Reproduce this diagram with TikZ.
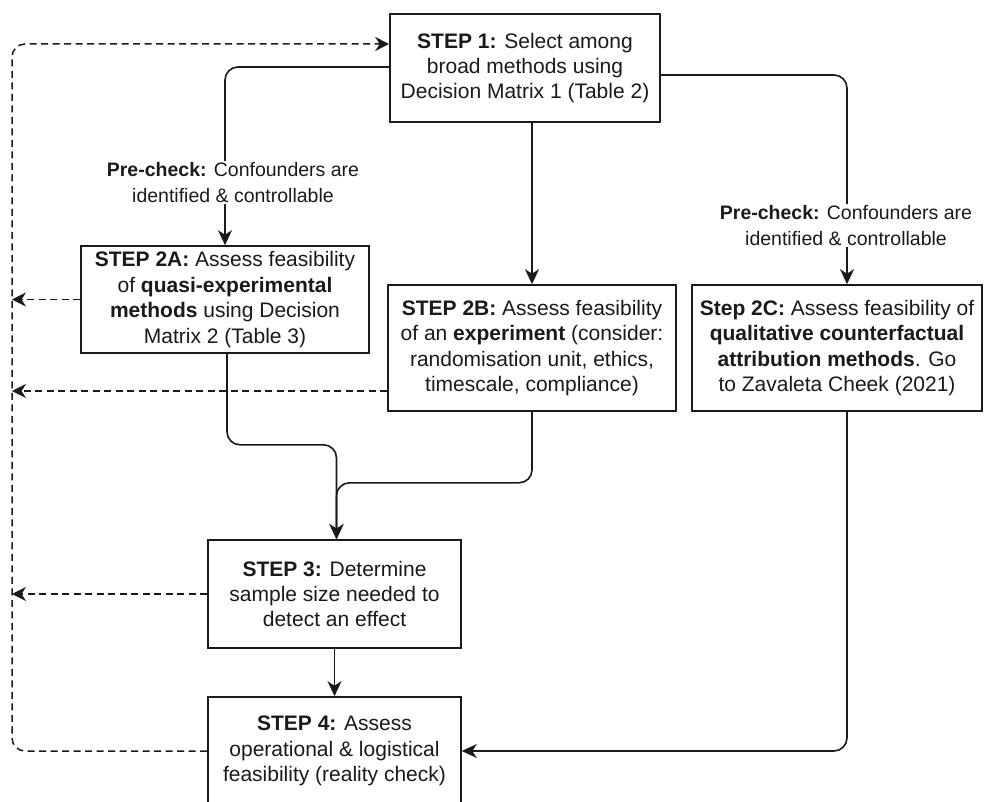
\documentclass[tikz,border=0pt]{standalone}
\usepackage{fontspec}
\setmainfont{Liberation Sans}
\usetikzlibrary{arrows.meta}
\definecolor{ink}{HTML}{1A1A1A}
\begin{document}
\begin{tikzpicture}[x=1pt,y=-1pt,
  box/.style={draw=ink, line width=1.6pt, fill=white, text=ink, align=center, inner sep=0pt,
    font=\fontsize{21}{25.4}\selectfont},
  lbl/.style={text=ink, align=center, inner sep=1pt, font=\fontsize{19.5}{26}\selectfont},
  conn/.style={draw=ink, line width=1.6pt, rounded corners=13pt},
  arr/.style={conn, -{Stealth[length=15pt,width=14pt,inset=4.5pt]}},
  darr/.style={conn, line width=1.5pt, dash pattern=on 7pt off 4.5pt, -{Stealth[length=14pt,width=14pt,inset=4.5pt]}}
]
\useasboundingbox (0,0) rectangle (984,802);
\clip (0,0) rectangle (984,802);

% nodes
\node[box, minimum width=270pt, minimum height=108pt] (s1) at (525,68)
  {\textbf{STEP 1:} Select among\\broad methods using\\Decision Matrix 1 (Table 2)};
\node[box, minimum width=288pt, minimum height=107pt] (a2) at (225,299.5)
  {\textbf{STEP 2A:} Assess feasibility\\of \textbf{quasi-experimental}\\\textbf{methods} using Decision\\Matrix 2 (Table 3)};
\node[box, minimum width=288pt, minimum height=126pt] (b2) at (532,348)
  {\textbf{STEP 2B:} Assess feasibility\\of an \textbf{experiment} (consider:\\randomisation unit, ethics,\\timescale, compliance)};
\node[box, minimum width=290pt, minimum height=126pt] (c2) at (837,348)
  {\textbf{Step 2C:} Assess feasibility of\\\textbf{qualitative counterfactual}\\\textbf{attribution methods}. Go\\to Zavaleta Cheek (2021)};
\node[box, minimum width=253pt, minimum height=108pt] (s3) at (334.5,594)
  {\textbf{STEP 3:} Determine\\sample size needed to\\detect an effect};
\node[box, minimum width=253pt, minimum height=108pt] (s4) at (334.5,751)
  {\textbf{STEP 4:} Assess\\operational \& logistical\\feasibility (reality check)};

\node[lbl] (lab1) at (233,182.5)
  {\textbf{Pre-check:} Confounders are\\identified \& controllable};
\node[lbl] (lab2) at (846,225.5)
  {\textbf{Pre-check:} Confounders are\\identified \& controllable};

\coordinate (fb) at (12,44);

% solid connectors
\draw[conn] ([yshift=1pt]s1.west) -| (a2.north |- lab1.north);
\draw[arr] (a2.north |- lab1.south) -- (a2.north);
\draw[arr] (s1.south -| b2.north) -- (b2.north);
\draw[conn] ([yshift=-7pt]s1.east) -| ([xshift=10pt]c2.north |- lab2.north);
\draw[arr] ([xshift=10pt]c2.north |- lab2.south) -- ([xshift=10pt]c2.north);
\draw[arr] ([xshift=2pt]a2.south) -- ++(0,91) -| ([xshift=2pt]s3.north);
\draw[arr] (b2.south) -- ++(0,71) -| ([xshift=2pt]s3.north);
\draw[arr] (s3.south) -- (s4.north);
\draw[arr] ([xshift=10pt]c2.south) |- (s4.east);

% dashed feedback connectors
\draw[darr] (a2.west) -- (a2.west -| fb);
\draw[darr] ([yshift=-43pt]b2.west) -- ([yshift=-43pt]b2.west -| fb);
\draw[darr] (s3.west) -- (s3.west -| fb);
\draw[darr] (s4.west) -| (fb) -- (fb -| s1.west);
\end{tikzpicture}
\end{document}
